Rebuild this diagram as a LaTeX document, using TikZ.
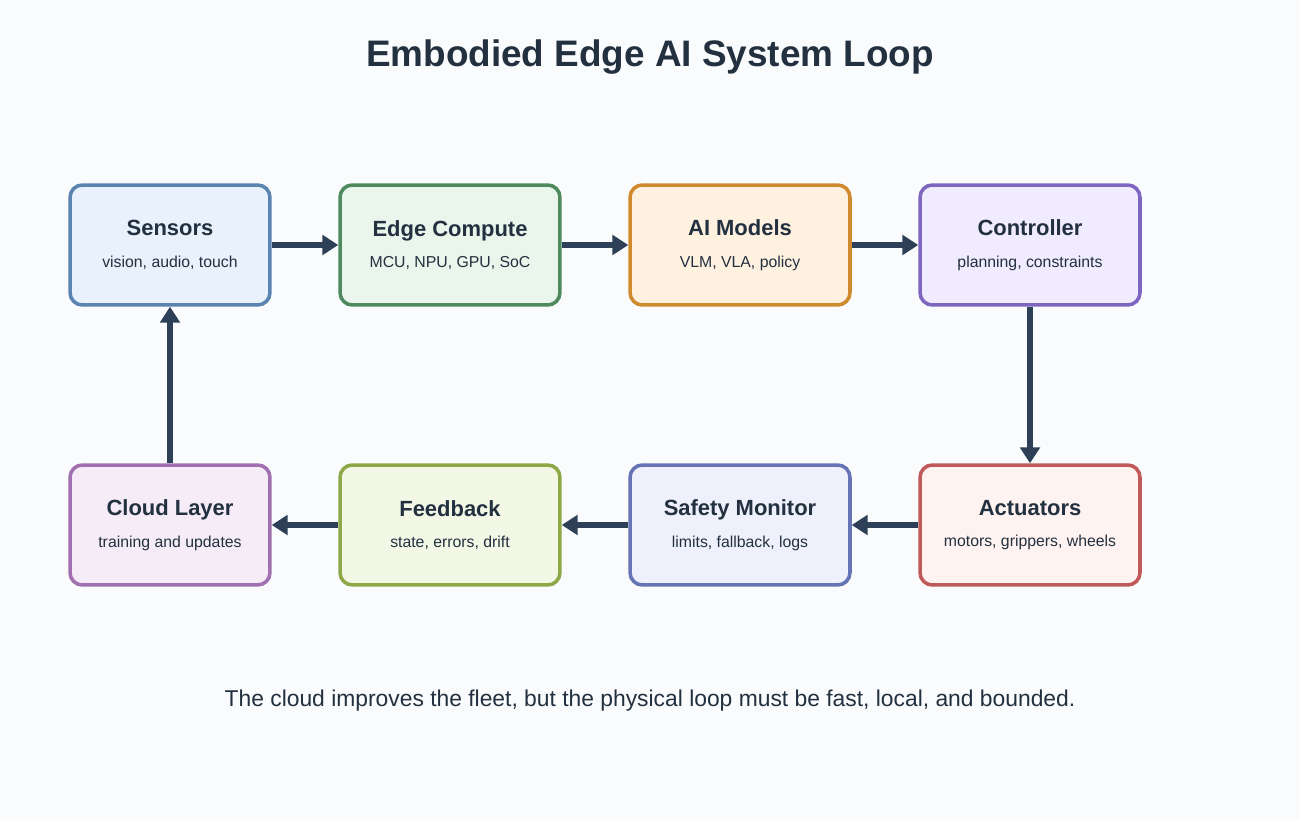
\documentclass[tikz,border=0pt]{standalone}
\usepackage{fontspec}
\setmainfont{Liberation Sans}
\usetikzlibrary{arrows.meta}
\usetikzlibrary{backgrounds}

\definecolor{bgc}{HTML}{F9FBFC}
\definecolor{ink}{HTML}{22303F}
\definecolor{arr}{HTML}{2E4057}
\definecolor{sensD}{HTML}{5B84B1}\definecolor{sensF}{HTML}{E8F1FC}
\definecolor{edgeD}{HTML}{4E8A5E}\definecolor{edgeF}{HTML}{EAF5EC}
\definecolor{aiD}{HTML}{D08A2E}\definecolor{aiF}{HTML}{FFF1E0}
\definecolor{ctrlD}{HTML}{7E65BF}\definecolor{ctrlF}{HTML}{F1EBFF}
\definecolor{actD}{HTML}{C05A5A}\definecolor{actF}{HTML}{FFF3F1}
\definecolor{safeD}{HTML}{6673B5}\definecolor{safeF}{HTML}{EEF1FC}
\definecolor{fbD}{HTML}{8EA848}\definecolor{fbF}{HTML}{F3F7E6}
\definecolor{cloudD}{HTML}{A070B0}\definecolor{cloudF}{HTML}{F5ECF7}

\begin{document}
\begin{tikzpicture}[x=0.02cm,y=-0.02cm]
            \tikzstyle{box}=[rounded corners=7pt,line width=2pt,minimum height=2.4cm,inner sep=0pt,align=center,text=ink]
            \tikzstyle{flow}=[draw=arr,line width=3pt,-{Triangle[length=9pt,width=11pt]}]

            \fill[bgc] (0,0) rectangle (1300,820);

            \node[font=\bfseries\fontsize{21}{25}\selectfont,text=ink] (title) at (650,57) {Embodied Edge AI System Loop};

            \node[box,draw=sensD,fill=sensF,minimum width=4cm]  (sens)  at (170,245) {\fontsize{12.5}{15}\selectfont\bfseries Sensors\\[6pt]\fontsize{9}{11}\selectfont vision, audio, touch};
            \node[box,draw=edgeD,fill=edgeF,minimum width=4.4cm] (edge) at (450,245) {\fontsize{12.5}{15}\selectfont\bfseries Edge Compute\\[6pt]\fontsize{9}{11}\selectfont MCU, NPU, GPU, SoC};
            \node[box,draw=aiD,fill=aiF,minimum width=4.4cm]    (ai)    at (740,245) {\fontsize{12.5}{15}\selectfont\bfseries AI Models\\[6pt]\fontsize{9}{11}\selectfont VLM, VLA, policy};
            \node[box,draw=ctrlD,fill=ctrlF,minimum width=4.4cm] (ctrl) at (1030,245) {\fontsize{12.5}{15}\selectfont\bfseries Controller\\[6pt]\fontsize{9}{11}\selectfont planning, constraints};

            \node[box,draw=cloudD,fill=cloudF,minimum width=4cm] (cloud) at (170,525) {\fontsize{12.5}{15}\selectfont\bfseries Cloud Layer\\[6pt]\fontsize{9}{11}\selectfont training and updates};
            \node[box,draw=fbD,fill=fbF,minimum width=4.4cm]    (fb)    at (450,525) {\fontsize{12.5}{15}\selectfont\bfseries Feedback\\[6pt]\fontsize{9}{11}\selectfont state, errors, drift};
            \node[box,draw=safeD,fill=safeF,minimum width=4.4cm] (safe) at (740,525) {\fontsize{12.5}{15}\selectfont\bfseries Safety Monitor\\[6pt]\fontsize{9}{11}\selectfont limits, fallback, logs};
            \node[box,draw=actD,fill=actF,minimum width=4.4cm]  (act)   at (1030,525) {\fontsize{12.5}{15}\selectfont\bfseries Actuators\\[6pt]\fontsize{9}{11}\selectfont motors, grippers, wheels};

            \draw[flow] (sens) -- (edge);
            \draw[flow] (edge) -- (ai);
            \draw[flow] (ai) -- (ctrl);
            \draw[flow] (ctrl) -- (act);
            \draw[flow] (act) -- (safe);
            \draw[flow] (safe) -- (fb);
            \draw[flow] (fb) -- (cloud);
            \draw[flow] (cloud) -- (sens);

            \node[font=\fontsize{13}{16}\selectfont,text=ink] (note) at (650,701) {The cloud improves the fleet, but the physical loop must be fast, local, and bounded.};
        \end{tikzpicture}
\end{document}
